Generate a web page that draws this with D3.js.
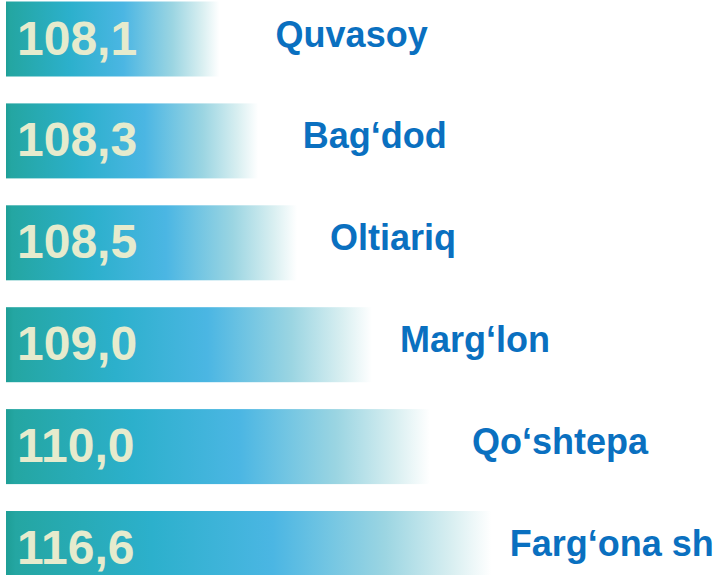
<!DOCTYPE html>
<html>
<head>
<meta charset="utf-8">
<script src="https://cdn.jsdelivr.net/npm/d3@7"></script>
<style>
  body { margin: 0; background: #fff; }
  svg { display: block; }
</style>
</head>
<body>
<svg width="721" height="575"></svg>
<script>
const categories = ['Quvasoy', 'Bag‘dod', 'Oltiariq', 'Marg‘lon', 'Qo‘shtepa', 'Farg‘ona sh'];
const values = [108.1, 108.3, 108.5, 109.0, 110.0, 116.6];
const valueLabels = ['108,1', '108,3', '108,5', '109,0', '110,0', '116,6'];

const svg = d3.select('svg');
const x0 = 6;

// broken scale: the infographic stretches the small differences
const x = d3.scaleLinear()
  .domain([108, 108.5, 109, 110, 117])
  .range([200, 297, 372, 430, 495]);

const labelX = d3.scaleLinear()
  .domain([108, 108.5, 109, 110, 117])
  .range([262, 330, 400, 472, 512]);

const y = d3.scaleBand()
  .domain(categories)
  .range([1.5, 586])
  .paddingInner(0.264);

const defs = svg.append('defs');
const grad = defs.append('linearGradient')
  .attr('id', 'barGrad')
  .attr('x1', 0).attr('x2', 1).attr('y1', 0).attr('y2', 0);
grad.append('stop').attr('offset', 0).attr('stop-color', '#1e9e96');
grad.append('stop').attr('offset', 0.02).attr('stop-color', '#24a6a2');
grad.append('stop').attr('offset', 0.3).attr('stop-color', '#2cb0cc');
grad.append('stop').attr('offset', 0.55).attr('stop-color', '#4bb6e3');
grad.append('stop').attr('offset', 0.78).attr('stop-color', '#9bd5e2');
grad.append('stop').attr('offset', 0.92).attr('stop-color', '#d9eff1');
grad.append('stop').attr('offset', 1).attr('stop-color', '#ffffff');

const rows = svg.selectAll('g.row')
  .data(categories)
  .enter().append('g')
  .attr('class', 'row');

rows.append('rect')
  .attr('x', x0)
  .attr('y', d => y(d))
  .attr('width', (d, i) => x(values[i]) - x0)
  .attr('height', y.bandwidth())
  .attr('fill', 'url(#barGrad)');

rows.append('text')
  .attr('x', 17)
  .attr('y', d => y(d) + 53)
  .attr('fill', '#e6ebcd')
  .style('font-family', '"Liberation Sans", Arial, sans-serif')
  .style('font-weight', 'bold')
  .style('font-size', '48px')
  .text((d, i) => valueLabels[i]);

rows.append('text')
  .attr('x', (d, i) => labelX(values[i]))
  .attr('y', d => y(d) + 45)
  .attr('fill', '#0a70c0')
  .style('font-family', '"Liberation Sans", Arial, sans-serif')
  .style('font-weight', 'bold')
  .style('font-size', '36px')
  .text(d => d);
</script>
</body>
</html>
